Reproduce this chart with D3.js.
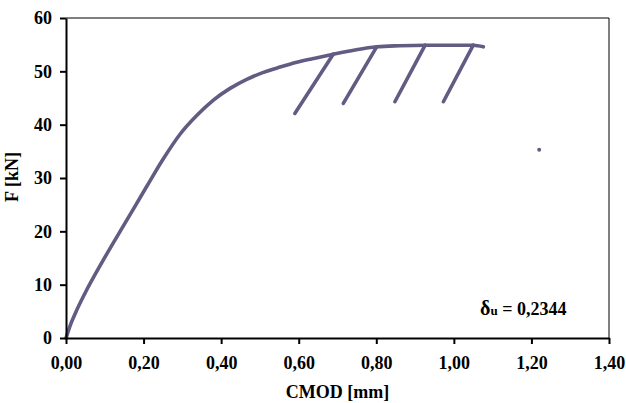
<!DOCTYPE html>
<html><head><meta charset="utf-8">
<script src="https://cdn.jsdelivr.net/npm/d3@7"></script>
<style>html,body{margin:0;padding:0;background:#fff;}</style>
</head><body>
<svg id="c" width="626" height="403"></svg>
<script>
// Loading envelope: CMOD [mm] and F [kN]
const cmod = [0, 0.010, 0.025, 0.049, 0.096, 0.156, 0.208, 0.251, 0.294, 0.337, 0.380, 0.423, 0.466, 0.509, 0.552, 0.595, 0.638, 0.689,
  0.745, 0.801, 0.860, 0.926, 0.990, 1.050, 1.076];
const force = [0, 2.2, 4.8, 8.4, 14.6, 22.0, 28.4, 33.6, 38.2, 41.7, 44.6, 46.8, 48.5, 49.8, 50.8, 51.7, 52.4, 53.2,
  54.0, 54.6, 54.8, 54.9, 54.9, 54.9, 54.6];
// Unload/reload cycles: start (top) and end (bottom)
const cycleTopCmod = [0.689, 0.801, 0.926, 1.050];
const cycleTopForce = [53.2, 54.6, 54.9, 54.9];
const cycleBotCmod = [0.590, 0.715, 0.848, 0.973];
const cycleBotForce = [42.1, 44.0, 44.3, 44.3];
const strayPoint = [1.22, 35.3];
const xTicks = [0, 0.2, 0.4, 0.6, 0.8, 1.0, 1.2, 1.4];
const yTicks = [0, 10, 20, 30, 40, 50, 60];
const xTitle = "CMOD [mm]";
const yTitle = "F [kN]";
const annValue = " = 0,2344";

const svg = d3.select("#c");
const L = 66, R = 609, T = 18, B = 338;
const x = d3.scaleLinear().domain([0, 1.4]).range([L, R]);
const y = d3.scaleLinear().domain([0, 60]).range([B, T]);
const font = "'Liberation Serif','Times New Roman',serif";
const col = "#625b82";

svg.append("path").attr("d", `M${L},${T}H${R}V${B}`).attr("fill", "none").attr("stroke", "#000").attr("stroke-width", 1);

const env = cmod.map((c, i) => [c, force[i]]);
const sty = p => p.attr("fill", "none").attr("stroke", col).attr("stroke-width", 3.6)
  .attr("stroke-linejoin", "round").attr("stroke-linecap", "round");
svg.append("path").datum(env)
  .attr("d", d3.line().x(d => x(d[0])).y(d => y(d[1])).curve(d3.curveMonotoneX)).call(sty);
const lin = d3.line().x(d => x(d[0])).y(d => y(d[1]));
cycleTopCmod.forEach((c, i) => {
  svg.append("path").datum([[c, cycleTopForce[i]], [cycleBotCmod[i], cycleBotForce[i]]]).attr("d", lin).call(sty);
});

svg.append("circle").attr("cx", x(strayPoint[0])).attr("cy", y(strayPoint[1])).attr("r", 2).attr("fill", col);

const fmt = d => d3.format(".2f")(d).replace(".", ",");
const xa = svg.append("g").attr("transform", `translate(0,${B})`)
  .call(d3.axisBottom(x).tickValues(xTicks).tickFormat(fmt).tickSize(6).tickSizeOuter(0).tickPadding(12));
const ya = svg.append("g").attr("transform", `translate(${L},0)`)
  .call(d3.axisLeft(y).tickValues(yTicks).tickFormat(d3.format("d")).tickSize(6).tickSizeOuter(0).tickPadding(8));
[xa, ya].forEach(a => {
  a.selectAll("path.domain").attr("stroke", "#000").attr("stroke-width", 2);
  a.selectAll(".tick line").attr("stroke", "#000").attr("stroke-width", 2);
  a.selectAll("text").attr("font-family", font).attr("font-weight", "bold").attr("font-size", 18).attr("fill", "#000");
});

svg.append("text").attr("x", (L + R) / 2).attr("y", 398).attr("text-anchor", "middle")
  .attr("font-family", font).attr("font-weight", "bold").attr("font-size", 18).text(xTitle);
svg.append("text").attr("transform", `translate(18,177) rotate(-90)`).attr("text-anchor", "middle")
  .attr("font-family", font).attr("font-weight", "bold").attr("font-size", 18).text(yTitle);

const ann = svg.append("text").attr("x", 480).attr("y", 315)
  .attr("font-family", font).attr("font-weight", "bold").attr("font-size", 18);
ann.append("tspan").attr("font-size", 20).text("δ");
ann.append("tspan").attr("font-size", 13).text("u");
ann.append("tspan").text(annValue);
</script>
</body></html>
